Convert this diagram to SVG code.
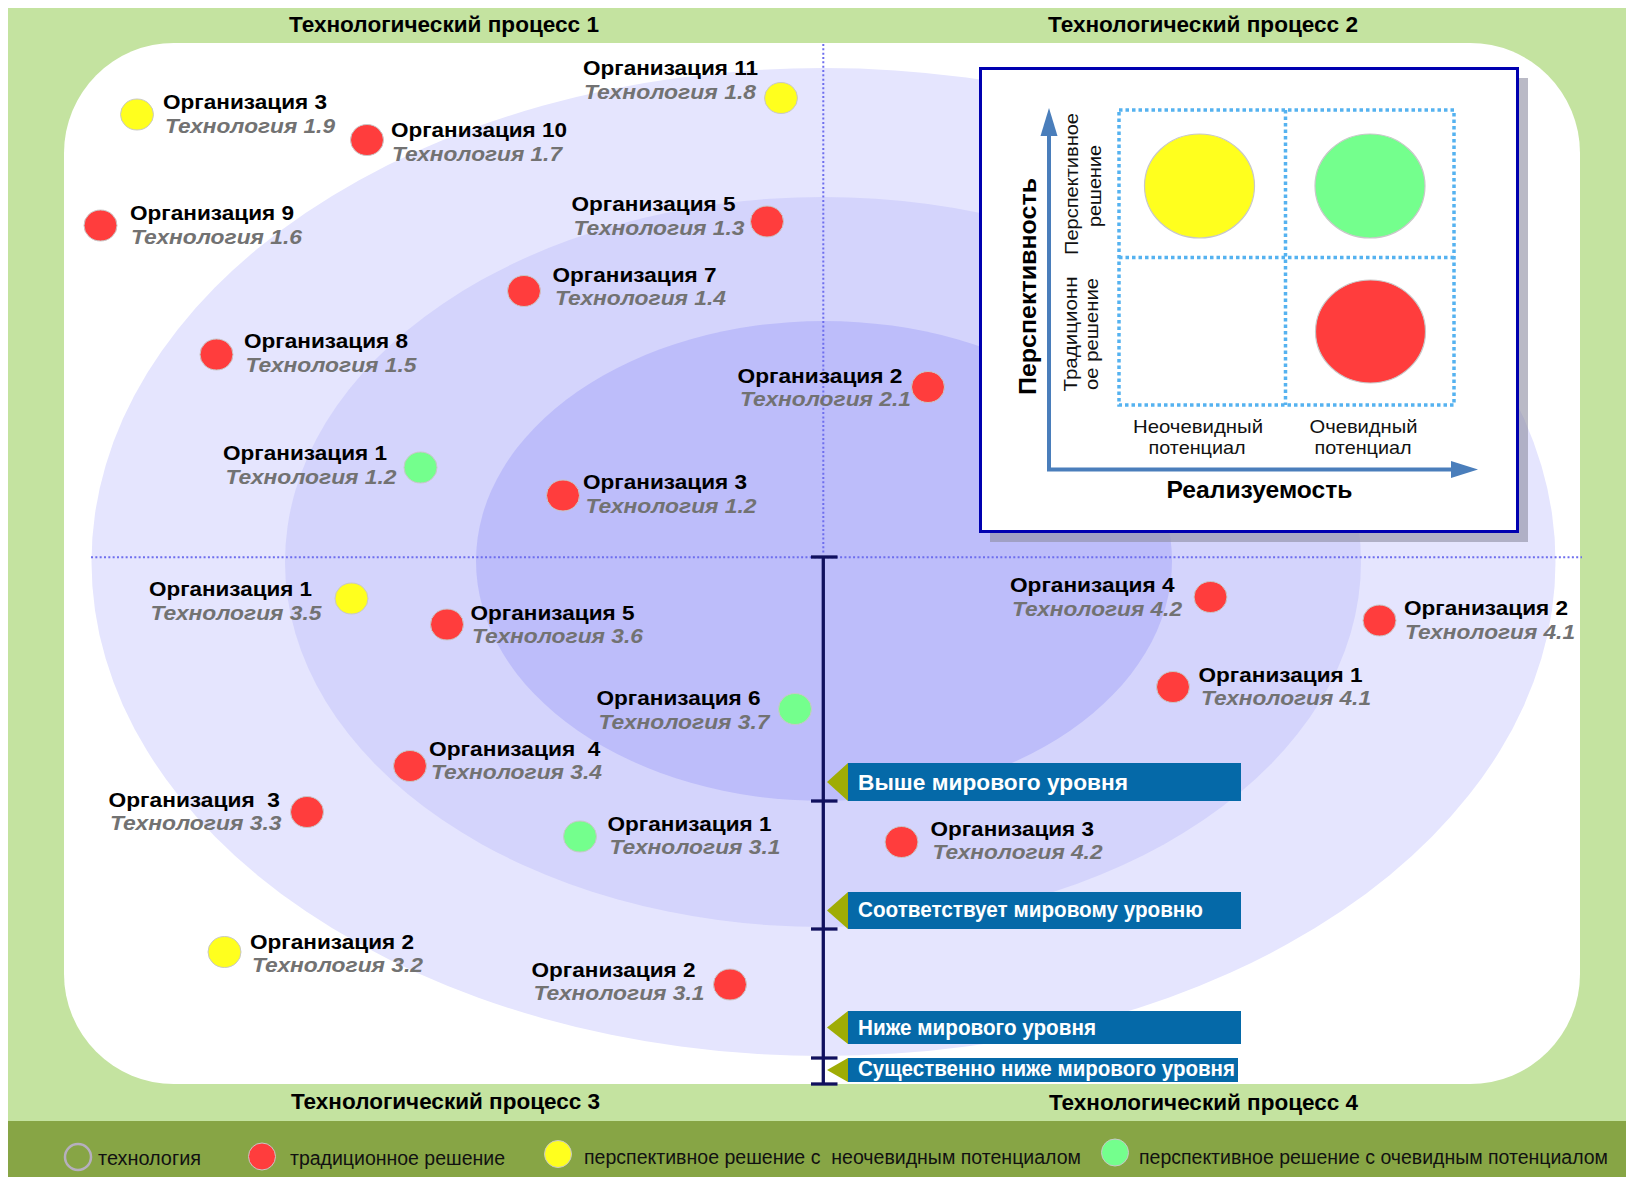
<svg xmlns="http://www.w3.org/2000/svg" width="1626" height="1177" viewBox="0 0 1626 1177">
  <style>
    .ttl { font-family: "Liberation Sans", Arial, sans-serif; font-weight: bold; font-size: 21.5px; fill: #000; }
    .org { font-family: "Liberation Sans", Arial, sans-serif; font-weight: bold; font-size: 21px; fill: #000; }
    .tech { font-family: "Liberation Sans", Arial, sans-serif; font-weight: bold; font-style: italic; font-size: 21px; fill: #727272; }
    .lg { font-family: "Liberation Sans", Arial, sans-serif; font-size: 20px; fill: #111; }
    .lvl { font-family: "Liberation Sans", Arial, sans-serif; font-weight: bold; font-size: 22px; fill: #fff; }
    .ax { font-family: "Liberation Sans", Arial, sans-serif; font-weight: bold; font-size: 24px; fill: #000; }
    .qs { font-family: "Liberation Sans", Arial, sans-serif; font-size: 19px; fill: #111; }
    .red { fill: #FF3D3D; stroke: #C8C8C8; stroke-width: 1; }
    .yel { fill: #FFFF1E; stroke: #C8C8C8; stroke-width: 1; }
    .grn { fill: #74FF8D; stroke: #C8C8C8; stroke-width: 1; }
    .dotline { stroke: #6E6EEE; stroke-width: 2; stroke-dasharray: 2 2.33; fill: none; }
    .grid { stroke: #55B2F0; stroke-width: 3.5; stroke-dasharray: 3.5 3; fill: none; }
    .band { fill: #0569A8; }
    .tip { fill: #9FAC05; }
    .tick { stroke: #10105E; stroke-width: 3.3; }
  </style>

  <!-- background frame -->
  <rect x="0" y="0" width="1626" height="1177" fill="#fff"/>
  <rect x="8" y="8" width="1618" height="1113" fill="#C4E3A0"/>
  <rect x="8" y="1121" width="1618" height="56" fill="#87A545"/>
  <rect x="64" y="43" width="1516" height="1041" rx="110" ry="110" fill="#fff"/>

  <!-- maturity rings -->
  <ellipse cx="823.5" cy="562" rx="732" ry="494" fill="#E5E5FE"/>
  <ellipse cx="823" cy="562" rx="538" ry="365" fill="#D4D4FC"/>
  <ellipse cx="824" cy="561" rx="348" ry="240" fill="#BDBDFA"/>

  <!-- quadrant dividers -->
  <line class="dotline" x1="823.3" y1="44" x2="823.3" y2="554"/>
  <line class="dotline" x1="91" y1="557.3" x2="1582" y2="557.3"/>

  <!-- process titles -->
  <text class="ttl" x="289" y="32" textLength="310" lengthAdjust="spacingAndGlyphs">Технологический процесс 1</text>
  <text class="ttl" x="1048" y="32" textLength="310" lengthAdjust="spacingAndGlyphs">Технологический процесс 2</text>
  <text class="ttl" x="291" y="1108.5" textLength="309" lengthAdjust="spacingAndGlyphs">Технологический процесс 3</text>
  <text class="ttl" x="1049" y="1109.5" textLength="309" lengthAdjust="spacingAndGlyphs">Технологический процесс 4</text>

  <!-- legend inset -->
  <g id="legend-matrix">
    <rect x="990" y="78" width="538" height="464" fill="#8C8CA0" opacity="0.6"/>
    <rect x="980.5" y="68.5" width="537" height="463" fill="#fff" stroke="#0000B0" stroke-width="3"/>
    <rect class="grid" x="1119" y="110" width="335" height="295"/>
    <line class="grid" x1="1285.5" y1="110" x2="1285.5" y2="405"/>
    <line class="grid" x1="1119" y1="257.5" x2="1454" y2="257.5"/>
    <ellipse cx="1199.5" cy="186" rx="55" ry="52" fill="#FFFF1E" stroke="#C8C8C8" stroke-width="1.2"/>
    <ellipse cx="1370" cy="186" rx="55" ry="52" fill="#74FF8D" stroke="#C8C8C8" stroke-width="1.2"/>
    <ellipse cx="1370.5" cy="331.5" rx="55" ry="51.5" fill="#FF3D3D" stroke="#C8C8C8" stroke-width="1.2"/>
    <polyline points="1049,134 1049,469.5 1453,469.5" fill="none" stroke="#4A7EBB" stroke-width="4"/>
    <polygon points="1049,108 1057.5,136 1040.5,136" fill="#4A7EBB"/>
    <polygon points="1478,469.5 1451,461 1451,478" fill="#4A7EBB"/>
    <text class="ax" transform="translate(1035.8,286.5) rotate(-90)" text-anchor="middle" textLength="217" lengthAdjust="spacingAndGlyphs">Перспективность</text>
    <text class="qs" transform="translate(1078,184) rotate(-90)" text-anchor="middle" textLength="142" lengthAdjust="spacingAndGlyphs">Перспективное</text>
    <text class="qs" transform="translate(1100.5,186) rotate(-90)" text-anchor="middle" textLength="82" lengthAdjust="spacingAndGlyphs">решение</text>
    <text class="qs" transform="translate(1076.5,334) rotate(-90)" text-anchor="middle" textLength="115" lengthAdjust="spacingAndGlyphs">Традиционн</text>
    <text class="qs" transform="translate(1098,334) rotate(-90)" text-anchor="middle" textLength="112" lengthAdjust="spacingAndGlyphs">ое решение</text>
    <text class="qs" x="1198" y="432.5" text-anchor="middle" textLength="130" lengthAdjust="spacingAndGlyphs">Неочевидный</text>
    <text class="qs" x="1197" y="454" text-anchor="middle" textLength="97" lengthAdjust="spacingAndGlyphs">потенциал</text>
    <text class="qs" x="1363.5" y="432.5" text-anchor="middle" textLength="108" lengthAdjust="spacingAndGlyphs">Очевидный</text>
    <text class="qs" x="1363" y="454" text-anchor="middle" textLength="97" lengthAdjust="spacingAndGlyphs">потенциал</text>
    <text class="ax" x="1259.5" y="497.5" text-anchor="middle" textLength="186" lengthAdjust="spacingAndGlyphs">Реализуемость</text>
  </g>

  <!-- level scale with labels -->
  <g id="scale">
    <line x1="823.3" y1="557" x2="823.3" y2="1084" stroke="#10105E" stroke-width="3.3"/>
    <line class="tick" x1="811" y1="557" x2="837.5" y2="557"/>
    <line class="tick" x1="811" y1="801" x2="837.5" y2="801"/>
    <line class="tick" x1="811" y1="929" x2="837.5" y2="929"/>
    <line class="tick" x1="811" y1="1058" x2="837.5" y2="1058"/>
    <line class="tick" x1="811" y1="1084" x2="837.5" y2="1084"/>
  </g>
  <g id="level-above">
    <rect class="band" x="848" y="763" width="393" height="38"/>
    <polygon class="tip" points="827,782 848,763 848,801"/>
    <text class="lvl" x="858" y="789.5" textLength="270" lengthAdjust="spacingAndGlyphs">Выше мирового уровня</text>
  </g>
  <g id="level-match">
    <rect class="band" x="848" y="892" width="393" height="37"/>
    <polygon class="tip" points="827,910.5 848,892 848,929"/>
    <text class="lvl" x="858" y="917" textLength="345" lengthAdjust="spacingAndGlyphs">Соответствует мировому уровню</text>
  </g>
  <g id="level-below">
    <rect class="band" x="848" y="1011" width="393" height="33"/>
    <polygon class="tip" points="827,1027.5 848,1011 848,1044"/>
    <text class="lvl" x="858" y="1035" textLength="238" lengthAdjust="spacingAndGlyphs">Ниже мирового уровня</text>
  </g>
  <g id="level-far-below">
    <rect class="band" x="848" y="1058" width="390" height="24"/>
    <polygon class="tip" points="827,1070 848,1058 848,1082"/>
    <text class="lvl" x="858" y="1076" font-size="21" textLength="377" lengthAdjust="spacingAndGlyphs">Существенно ниже мирового уровня</text>
  </g>

  <!-- process 1 -->
  <g id="p1-org3">
    <ellipse class="yel" cx="137" cy="114.5" rx="16.5" ry="15.5"/>
    <text class="org" x="163" y="108.5" textLength="164" lengthAdjust="spacingAndGlyphs">Организация 3</text>
    <text class="tech" x="165" y="132.5" textLength="170" lengthAdjust="spacingAndGlyphs">Технология 1.9</text>
  </g>
  <g id="p1-org10">
    <ellipse class="red" cx="367" cy="140" rx="16.5" ry="15.5"/>
    <text class="org" x="391" y="136.5" textLength="176" lengthAdjust="spacingAndGlyphs">Организация 10</text>
    <text class="tech" x="392" y="161" textLength="170" lengthAdjust="spacingAndGlyphs">Технология 1.7</text>
  </g>
  <g id="p1-org11">
    <ellipse class="yel" cx="781" cy="98" rx="16.5" ry="15.5"/>
    <text class="org" x="583" y="75" textLength="175" lengthAdjust="spacingAndGlyphs">Организация 11</text>
    <text class="tech" x="584" y="98.5" textLength="172" lengthAdjust="spacingAndGlyphs">Технология 1.8</text>
  </g>
  <g id="p1-org9">
    <ellipse class="red" cx="100.5" cy="225.5" rx="16.5" ry="15.5"/>
    <text class="org" x="130" y="219.5" textLength="164" lengthAdjust="spacingAndGlyphs">Организация 9</text>
    <text class="tech" x="131" y="243.5" textLength="171" lengthAdjust="spacingAndGlyphs">Технология 1.6</text>
  </g>
  <g id="p1-org5">
    <ellipse class="red" cx="767" cy="221.5" rx="16.5" ry="15.5"/>
    <text class="org" x="571.5" y="210.5" textLength="164" lengthAdjust="spacingAndGlyphs">Организация 5</text>
    <text class="tech" x="573.5" y="234.5" textLength="171" lengthAdjust="spacingAndGlyphs">Технология 1.3</text>
  </g>
  <g id="p1-org7">
    <ellipse class="red" cx="524" cy="291" rx="16.5" ry="15.5"/>
    <text class="org" x="552.5" y="281.5" textLength="164" lengthAdjust="spacingAndGlyphs">Организация 7</text>
    <text class="tech" x="555" y="304.5" textLength="171" lengthAdjust="spacingAndGlyphs">Технология 1.4</text>
  </g>
  <g id="p1-org8">
    <ellipse class="red" cx="216.5" cy="354.5" rx="16.5" ry="15.5"/>
    <text class="org" x="244" y="347.5" textLength="164" lengthAdjust="spacingAndGlyphs">Организация 8</text>
    <text class="tech" x="245.5" y="371.5" textLength="171" lengthAdjust="spacingAndGlyphs">Технология 1.5</text>
  </g>
  <g id="p1-org1">
    <ellipse class="grn" cx="420.5" cy="467.5" rx="16.5" ry="15.5"/>
    <text class="org" x="223" y="460" textLength="164" lengthAdjust="spacingAndGlyphs">Организация 1</text>
    <text class="tech" x="225.5" y="483.5" textLength="171" lengthAdjust="spacingAndGlyphs">Технология 1.2</text>
  </g>
  <g id="p1-org3b">
    <ellipse class="red" cx="563" cy="495.5" rx="16.5" ry="15.5"/>
    <text class="org" x="583" y="489" textLength="164" lengthAdjust="spacingAndGlyphs">Организация 3</text>
    <text class="tech" x="585.5" y="512.5" textLength="171" lengthAdjust="spacingAndGlyphs">Технология 1.2</text>
  </g>

  <!-- process 2 -->
  <g id="p2-org2">
    <ellipse class="red" cx="928" cy="387" rx="16.5" ry="15.5"/>
    <text class="org" x="737.5" y="382.5" textLength="165" lengthAdjust="spacingAndGlyphs">Организация 2</text>
    <text class="tech" x="740" y="406" textLength="171" lengthAdjust="spacingAndGlyphs">Технология 2.1</text>
  </g>

  <!-- process 3 -->
  <g id="p3-org1">
    <ellipse class="yel" cx="351.5" cy="598.5" rx="16.5" ry="15.5"/>
    <text class="org" x="149" y="595.5" textLength="163" lengthAdjust="spacingAndGlyphs">Организация 1</text>
    <text class="tech" x="150.5" y="619.5" textLength="171" lengthAdjust="spacingAndGlyphs">Технология 3.5</text>
  </g>
  <g id="p3-org5">
    <ellipse class="red" cx="447" cy="624.5" rx="16.5" ry="15.5"/>
    <text class="org" x="470.5" y="619.5" textLength="164" lengthAdjust="spacingAndGlyphs">Организация 5</text>
    <text class="tech" x="472" y="642.5" textLength="171" lengthAdjust="spacingAndGlyphs">Технология 3.6</text>
  </g>
  <g id="p3-org6">
    <ellipse class="grn" cx="795" cy="709" rx="16.5" ry="15.5"/>
    <text class="org" x="596.5" y="704.5" textLength="164" lengthAdjust="spacingAndGlyphs">Организация 6</text>
    <text class="tech" x="598.5" y="728.5" textLength="171" lengthAdjust="spacingAndGlyphs">Технология 3.7</text>
  </g>
  <g id="p3-org4">
    <ellipse class="red" cx="410" cy="766" rx="16.5" ry="15.5"/>
    <text class="org" x="429" y="755.5" textLength="171.5" lengthAdjust="spacingAndGlyphs" xml:space="preserve">Организация  4</text>
    <text class="tech" x="431" y="778.5" textLength="171" lengthAdjust="spacingAndGlyphs">Технология 3.4</text>
  </g>
  <g id="p3-org3">
    <ellipse class="red" cx="307" cy="812" rx="16.5" ry="15.5"/>
    <text class="org" x="108.5" y="807" textLength="171.5" lengthAdjust="spacingAndGlyphs" xml:space="preserve">Организация  3</text>
    <text class="tech" x="110" y="830" textLength="171.5" lengthAdjust="spacingAndGlyphs">Технология 3.3</text>
  </g>
  <g id="p3-org1b">
    <ellipse class="grn" cx="580" cy="836.5" rx="16.5" ry="15.5"/>
    <text class="org" x="607.5" y="831" textLength="164" lengthAdjust="spacingAndGlyphs">Организация 1</text>
    <text class="tech" x="609.5" y="854" textLength="171" lengthAdjust="spacingAndGlyphs">Технология 3.1</text>
  </g>
  <g id="p3-org2">
    <ellipse class="yel" cx="224.5" cy="952" rx="16.5" ry="15.5"/>
    <text class="org" x="250" y="948.5" textLength="164" lengthAdjust="spacingAndGlyphs">Организация 2</text>
    <text class="tech" x="252" y="971.5" textLength="171" lengthAdjust="spacingAndGlyphs">Технология 3.2</text>
  </g>
  <g id="p3-org2b">
    <ellipse class="red" cx="730" cy="984.5" rx="16.5" ry="15.5"/>
    <text class="org" x="531.5" y="976.5" textLength="164" lengthAdjust="spacingAndGlyphs">Организация 2</text>
    <text class="tech" x="533.5" y="999.5" textLength="171" lengthAdjust="spacingAndGlyphs">Технология 3.1</text>
  </g>

  <!-- process 4 -->
  <g id="p4-org4">
    <ellipse class="red" cx="1210.5" cy="597" rx="16.5" ry="15.5"/>
    <text class="org" x="1010" y="591.5" textLength="164.5" lengthAdjust="spacingAndGlyphs">Организация 4</text>
    <text class="tech" x="1012" y="616" textLength="170" lengthAdjust="spacingAndGlyphs">Технология 4.2</text>
  </g>
  <g id="p4-org2">
    <ellipse class="red" cx="1379.5" cy="620.5" rx="16.5" ry="15.5"/>
    <text class="org" x="1404" y="615" textLength="164" lengthAdjust="spacingAndGlyphs">Организация 2</text>
    <text class="tech" x="1405" y="639" textLength="170" lengthAdjust="spacingAndGlyphs">Технология 4.1</text>
  </g>
  <g id="p4-org1">
    <ellipse class="red" cx="1173" cy="687" rx="16.5" ry="15.5"/>
    <text class="org" x="1198.5" y="681.5" textLength="164" lengthAdjust="spacingAndGlyphs">Организация 1</text>
    <text class="tech" x="1201" y="705" textLength="170" lengthAdjust="spacingAndGlyphs">Технология 4.1</text>
  </g>
  <g id="p4-org3">
    <ellipse class="red" cx="901.5" cy="842" rx="16.5" ry="15.5"/>
    <text class="org" x="930.5" y="835.5" textLength="163.5" lengthAdjust="spacingAndGlyphs">Организация 3</text>
    <text class="tech" x="932.5" y="859" textLength="170" lengthAdjust="spacingAndGlyphs">Технология 4.2</text>
  </g>

  <!-- legend strip -->
  <g id="legend">
    <circle cx="78" cy="1157" r="13" fill="none" stroke="#B6AFBE" stroke-width="2.5"/>
    <text class="lg" x="98" y="1164.5" textLength="103" lengthAdjust="spacingAndGlyphs">технология</text>
    <circle class="red" cx="262" cy="1156.5" r="13.5"/>
    <text class="lg" x="290" y="1164.5" textLength="215" lengthAdjust="spacingAndGlyphs">традиционное решение</text>
    <circle class="yel" cx="558" cy="1154" r="13.5"/>
    <text class="lg" x="584" y="1163.5" textLength="497" lengthAdjust="spacingAndGlyphs" xml:space="preserve">перспективное решение с  неочевидным потенциалом</text>
    <circle class="grn" cx="1115" cy="1152.5" r="13.5"/>
    <text class="lg" x="1139" y="1163.5" textLength="469" lengthAdjust="spacingAndGlyphs">перспективное решение с очевидным потенциалом</text>
  </g>
</svg>
